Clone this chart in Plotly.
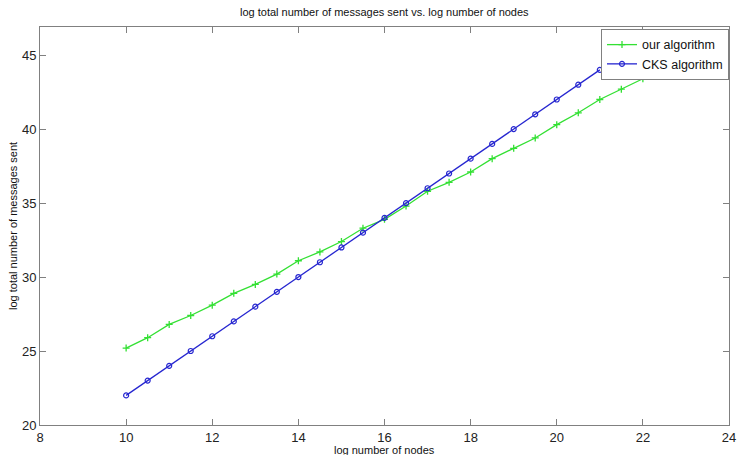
import plotly.graph_objects as go

x_ours = [10, 10.5, 11, 11.5, 12, 12.5, 13, 13.5, 14, 14.5, 15, 15.5, 16, 16.5, 17, 17.5, 18, 18.5, 19, 19.5, 20, 20.5, 21, 21.5, 22]
y_ours = [25.2, 25.9, 26.8, 27.4, 28.1, 28.9, 29.5, 30.2, 31.1, 31.7, 32.4, 33.3, 33.9, 34.8, 35.8, 36.4, 37.1, 38.0, 38.7, 39.4, 40.3, 41.1, 42.0, 42.7, 43.4]
x_cks = [10, 10.5, 11, 11.5, 12, 12.5, 13, 13.5, 14, 14.5, 15, 15.5, 16, 16.5, 17, 17.5, 18, 18.5, 19, 19.5, 20, 20.5, 21]
y_cks = [22, 23, 24, 25, 26, 27, 28, 29, 30, 31, 32, 33, 34, 35, 36, 37, 38, 39, 40, 41, 42, 43, 44]
x_ticks = [8, 10, 12, 14, 16, 18, 20, 22, 24]
y_ticks = [20, 25, 30, 35, 40, 45]

FONT = "Liberation Sans, Arial"

fig = go.Figure()
fig.add_trace(go.Scatter(x=x_ours, y=y_ours, mode="lines+markers", name="our algorithm",
                         line=dict(color="#33e033", width=1.3),
                         marker=dict(symbol="cross-thin", size=5, color="#33e033",
                                     line=dict(color="#33e033", width=1.3))))
fig.add_trace(go.Scatter(x=x_cks, y=y_cks, mode="lines+markers", name="CKS algorithm",
                         line=dict(color="#2626d0", width=1.3),
                         marker=dict(symbol="circle-open", size=5, color="#2626d0",
                                     line=dict(color="#2626d0", width=1.2))))

axis_common = dict(showgrid=False, zeroline=False, showline=True, linecolor="#808080", linewidth=1,
                   mirror="ticks", ticks="inside", ticklen=6, tickcolor="#808080",
                   tickfont=dict(family=FONT, size=13, color="#222"))
fig.update_xaxes(range=[8, 24], tickvals=x_ticks, ticklabelstandoff=0, **axis_common)
fig.update_yaxes(range=[20, 46.9], tickvals=y_ticks, **axis_common)

fig.update_layout(
    width=744, height=455,
    margin=dict(l=40, r=8, t=27, b=30),
    paper_bgcolor="white", plot_bgcolor="white",
    legend=dict(x=1.0, y=0.995, xanchor="right", yanchor="top", bgcolor="white", bordercolor="#808080",
                borderwidth=1, font=dict(family=FONT, size=12.5, color="#111"),
                tracegroupgap=0, itemwidth=30),
    showlegend=True,
    annotations=[
        dict(text="log total number of messages sent vs. log number of nodes", xref="paper", yref="paper",
             x=0.5, y=1, yshift=15, xanchor="center", yanchor="middle", showarrow=False,
             font=dict(family=FONT, size=11, color="#111")),
        dict(text="log number of nodes", xref="paper", yref="paper", x=0.5, y=0, yshift=-25,
             xanchor="center", yanchor="middle", showarrow=False,
             font=dict(family=FONT, size=11, color="#111")),
        dict(text="log total number of messages sent", xref="paper", yref="paper", x=0, xshift=-27,
             y=0.5, xanchor="center", yanchor="middle", textangle=-90, showarrow=False,
             font=dict(family=FONT, size=11, color="#111")),
    ],
)
fig.write_html("out.html", config={"displayModeBar": False},
               post_script="document.body.style.margin='0';")
